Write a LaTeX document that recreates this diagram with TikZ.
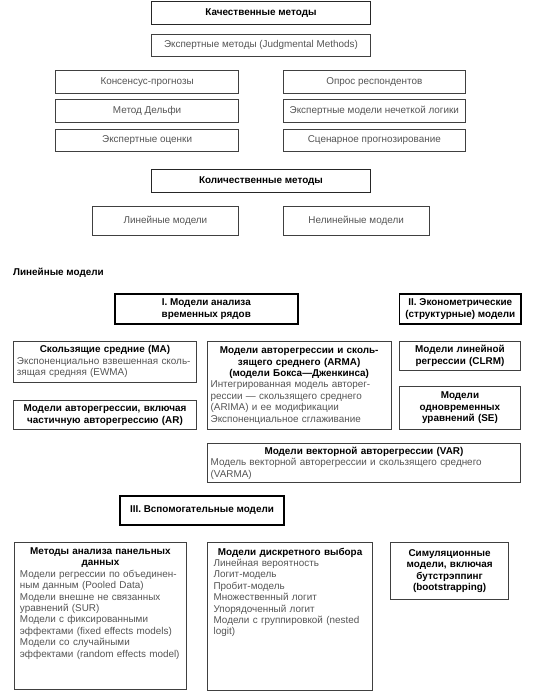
\documentclass[tikz,border=0pt]{standalone}
\usepackage{fontspec}
\setmainfont{Liberation Sans}
\usepackage{tikz}
\definecolor{txtgray}{gray}{0.33}
\newcommand{\boxhead}[1]{{\centering\bfseries\textcolor{black}{#1}\par}}

\begin{document}
\begin{tikzpicture}[x=1pt,y=-1pt,
  every node/.style={anchor=north west,inner xsep=3.5pt,inner ysep=2pt,
    font=\fontsize{9.9}{11.4}\selectfont},
  plainbox/.style={draw=black!75,line width=0.9pt,text=txtgray},
  headbox/.style={draw=black!85,line width=0.9pt,
    font=\fontsize{9.9}{11.4}\selectfont\bfseries},
  levelbox/.style={draw=black,line width=1.6pt,align=center,
    font=\fontsize{9.9}{11.4}\selectfont\bfseries},
  modelbox/.style={plainbox,align=left}]
  \useasboundingbox (0,0) rectangle (548,694);
  % qualitative
  \node[headbox,minimum width=219pt,minimum height=22.5pt] (qual) at (151,1) {Качественные методы};
  \node[plainbox,minimum width=219pt,minimum height=22.5pt] (judg) at (151,33.5) {Экспертные методы (Judgmental Methods)};
  \node[plainbox,minimum width=183.3pt,minimum height=22.5pt] (kons) at (55,70) {Консенсус-прогнозы};
  \node[plainbox,minimum width=183.3pt,minimum height=22.5pt] (delphi) at (55,99.3) {Метод Дельфи};
  \node[plainbox,minimum width=183.3pt,minimum height=22.5pt] (ocenki) at (55,128.7) {Экспертные оценки};
  \node[plainbox,minimum width=182.3pt,minimum height=22.5pt] (opros) at (282.7,70) {Опрос респондентов};
  \node[plainbox,minimum width=182.3pt,minimum height=22.5pt] (fuzzy) at (282.7,99.3) {Экспертные модели нечеткой логики};
  \node[plainbox,minimum width=182.3pt,minimum height=22.5pt] (scen) at (282.7,128.7) {Сценарное прогнозирование};
  % quantitative
  \node[headbox,minimum width=219pt,minimum height=22.7pt] (quant) at (151,169) {Количественные методы};
  \node[plainbox,minimum width=146.7pt,minimum height=29.3pt] (lin) at (91.6,205.7) {Линейные модели};
  \node[plainbox,minimum width=146pt,minimum height=29.3pt] (nonlin) at (282.7,205.7) {Нелинейные модели};
  % linear models
  \node[anchor=west,inner sep=0pt,font=\fontsize{9.9}{11.4}\selectfont\bfseries] (title) at (13,272.7) {Линейные модели};
  \node[levelbox,minimum width=183pt,minimum height=30.3pt] (tsa) at (114,293) {I. Модели анализа\\временных рядов};
  \node[levelbox,minimum width=121.6pt,minimum height=30pt] (econ) at (398.7,293.3) {II. Эконометрические\\(структурные) модели};
  \node[modelbox,text width=176pt,minimum width=183pt,minimum height=40.7pt] (ma) at (13,341)
    {\boxhead{Скользящие средние (MA)}Экспоненциально взвешенная сколь-\\зящая средняя (EWMA)};
  \node[modelbox,text width=176pt,minimum width=183pt,minimum height=29.3pt] (ar) at (13,400)
    {\boxhead{Модели авторегрессии, включая\\частичную авторегрессию (AR)}};
  \node[modelbox,text width=177pt,minimum width=184pt,minimum height=88pt] (arma) at (206.7,341)
    {\boxhead{Модели авторегрессии и сколь-\\зящего среднего (ARMA)\\(модели Бокса—Дженкинса)}Интегрированная модель авторег-\\рессии — скользящего среднего\\(ARIMA) и ее модификации\\Экспоненциальное сглаживание};
  \node[modelbox,text width=114.6pt,minimum width=121.6pt,minimum height=29pt] (clrm) at (398.7,341)
    {\boxhead{Модели линейной\\регрессии (CLRM)}};
  \node[modelbox,text width=114.6pt,minimum width=121.6pt,minimum height=43pt] (se) at (398.7,386)
    {\boxhead{Модели\\одновременных\\уравнений (SE)}};
  \node[modelbox,text width=306.6pt,minimum width=313.6pt,minimum height=38.4pt] (var) at (206.7,443.3)
    {\boxhead{Модели векторной авторегрессии (VAR)}Модель векторной авторегрессии и скользящего среднего\\(VARMA)};
  % auxiliary models
  \node[levelbox,minimum width=163.7pt,minimum height=29pt] (aux) at (119.3,495) {III. Вспомогательные модели};
  \node[modelbox,text width=161pt,inner xsep=5.5pt,inner ysep=5pt,text depth=130pt,minimum width=172pt] (panel) at (14,542.3)
    {\boxhead{Методы анализа панельных\\данных}Модели регрессии по объединен-\\ным данным (Pooled Data)\\Модели внешне не связанных\\уравнений (SUR)\\Модели с фиксированными\\эффектами (fixed effects models)\\Модели со случайными\\эффектами (random effects model)};
  \node[modelbox,text width=153pt,inner xsep=5.5pt,inner ysep=5pt,text depth=130pt,minimum width=164.7pt] (discr) at (207.3,542.3)
    {\boxhead{Модели дискретного выбора}Линейная вероятность\\Логит-модель\\Пробит-модель\\Множественный логит\\Упорядоченный логит\\Модели с группировкой (nested\\logit)};
  \node[modelbox,text width=110.7pt,minimum width=117.7pt,minimum height=56.7pt] (sim) at (390.3,542.3)
    {\boxhead{Симуляционные\\модели, включая\\бутстрэппинг\\(bootstrapping)}};
\end{tikzpicture}
\end{document}
